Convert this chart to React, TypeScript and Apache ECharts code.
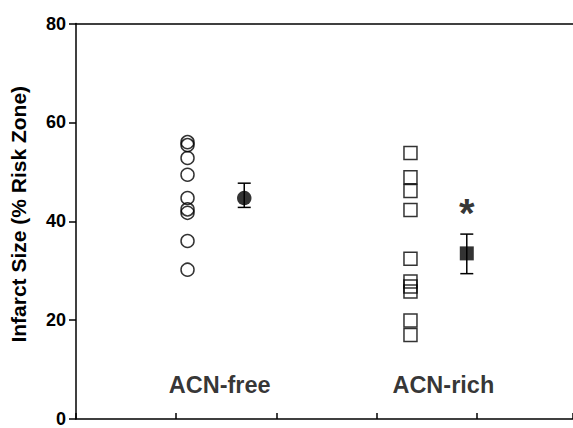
import React, { useEffect, useRef } from "react";
import * as echarts from "echarts";

const categories = ["ACN-free", "ACN-rich"];
const freeValues = [56.0, 55.4, 52.8, 49.4, 44.7, 42.4, 41.7, 36.0, 30.2];
const richValues = [53.8, 48.9, 46.1, 42.3, 32.4, 27.8, 26.8, 25.8, 19.9, 17.0];
const groupX = [1.113, 3.338];
const meanX = [1.679, 3.9];
const means = [44.7, 33.5];
const errLow = [42.8, 29.4];
const errHigh = [47.7, 37.4];
const labelX = [1.434, 3.666];
const labelY = 6.9;
const starPoint = [3.9, 43.1];
const yTicks = [0, 20, 40, 60, 80];

const FONT = "'Liberation Sans', Arial, sans-serif";

export default function App() {
  const ref = useRef<HTMLDivElement>(null);
  useEffect(() => {
    if (!ref.current) return;
    const chart = echarts.init(ref.current, null, { renderer: "svg" });
    const option: any = {
      animation: false,
      backgroundColor: "#fff",
      grid: { left: 76, right: 0, top: 23.5, bottom: 4.5, containLabel: false },
      xAxis: [
        {
          type: "value",
          min: 0,
          max: 4.96,
          interval: 1,
          position: "bottom",
          axisLine: { show: true, lineStyle: { color: "#000", width: 1.5 } },
          axisTick: { show: true, inside: true, length: 6, lineStyle: { color: "#000", width: 1.5 } },
          axisLabel: { show: false },
          splitLine: { show: false },
        },
        {
          type: "value",
          min: 0,
          max: 4.96,
          position: "top",
          axisLine: { show: true, lineStyle: { color: "#000", width: 1.5 } },
          axisTick: { show: false },
          axisLabel: { show: false },
          splitLine: { show: false },
        },
      ],
      yAxis: {
        type: "value",
        min: yTicks[0],
        max: yTicks[yTicks.length - 1],
        interval: 20,
        name: "Infarct Size (% Risk Zone)",
        nameLocation: "middle",
        nameGap: 47,
        nameTextStyle: {
          fontFamily: FONT,
          fontWeight: "bold",
          fontSize: 21,
          color: "#000",
          padding: [0, 0, 0, 14],
        },
        axisLine: { show: true, lineStyle: { color: "#000", width: 1.5 } },
        axisTick: { show: true, inside: false, length: 7, lineStyle: { color: "#000", width: 1.5 } },
        axisLabel: {
          margin: 10,
          fontFamily: FONT,
          fontWeight: "bold",
          fontSize: 18,
          color: "#000",
        },
        splitLine: { show: false },
      },
      series: [
        {
          type: "scatter",
          symbol: "circle",
          symbolSize: 13,
          data: freeValues.map((v) => [groupX[0], v]),
          itemStyle: { color: "transparent", borderColor: "#000", borderWidth: 1.5 },
        },
        {
          type: "scatter",
          symbol: "rect",
          symbolSize: 13,
          data: richValues.map((v) => [groupX[1], v]),
          itemStyle: { color: "transparent", borderColor: "#000", borderWidth: 1.5 },
        },
        {
          type: "custom",
          data: meanX.map((x, i) => [x, errLow[i], errHigh[i]]),
          renderItem: (params: any, api: any) => {
            const x = api.value(0);
            const lo = api.coord([x, api.value(1)]);
            const hi = api.coord([x, api.value(2)]);
            const w = 6.5;
            const st = { stroke: "#000", lineWidth: 1.5 };
            return {
              type: "group",
              children: [
                { type: "line", shape: { x1: lo[0], y1: lo[1], x2: hi[0], y2: hi[1] }, style: st },
                { type: "line", shape: { x1: lo[0] - w, y1: lo[1], x2: lo[0] + w, y2: lo[1] }, style: st },
                { type: "line", shape: { x1: hi[0] - w, y1: hi[1], x2: hi[0] + w, y2: hi[1] }, style: st },
              ],
            };
          },
          z: 2,
        },
        {
          type: "scatter",
          symbol: "circle",
          symbolSize: 14.5,
          data: [[meanX[0], means[0]]],
          itemStyle: { color: "#000" },
          z: 3,
        },
        {
          type: "scatter",
          symbol: "rect",
          symbolSize: 14,
          data: [[meanX[1], means[1]]],
          itemStyle: { color: "#000" },
          z: 3,
        },
        {
          type: "scatter",
          symbolSize: 0,
          data: [starPoint],
          label: {
            show: true,
            position: "inside",
            formatter: "*",
            fontFamily: FONT,
            fontWeight: "bold",
            fontSize: 40,
            color: "#000",
            offset: [0, 7],
          },
          z: 3,
        },
        {
          type: "scatter",
          symbolSize: 0,
          data: categories.map((c, i) => ({ value: [labelX[i], labelY], name: c })),
          label: {
            show: true,
            position: "inside",
            formatter: (p: any) => p.name,
            fontFamily: FONT,
            fontWeight: "bold",
            fontSize: 23.5,
            color: "#000",
          },
          z: 3,
        },
      ],
    };
    chart.setOption(option);
    return () => chart.dispose();
  }, []);
  return (
    <div
      ref={ref}
      style={{ position: "fixed", left: 0, top: 0, width: 573, height: 428 }}
    />
  );
}
